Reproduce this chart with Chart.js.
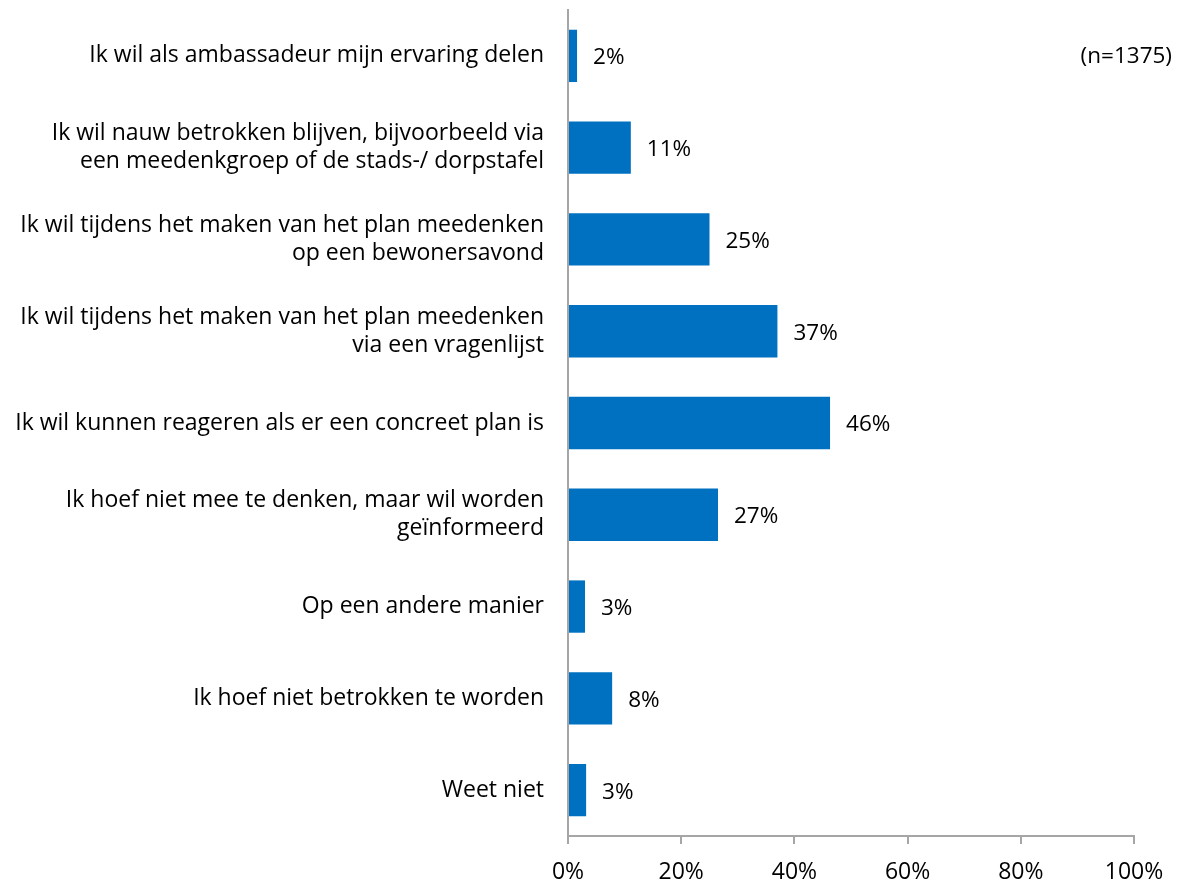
<!DOCTYPE html>
<html>
<head>
<meta charset="utf-8">
<script src="https://cdn.jsdelivr.net/npm/chart.js@4"></script>
<style>
  html, body { margin: 0; padding: 0; background: #fff; }
  #wrap { position: relative; width: 1182px; height: 883px; }
</style>
</head>
<body>
<div id="wrap"><canvas id="c" width="1182" height="883"></canvas></div>
<script>
// categorieën (meerregelig waar het origineel afbreekt)
const categories = [
  ['Ik wil als ambassadeur mijn ervaring delen'],
  ['Ik wil nauw betrokken blijven, bijvoorbeeld via', 'een meedenkgroep of de stads-/ dorpstafel'],
  ['Ik wil tijdens het maken van het plan meedenken', 'op een bewonersavond'],
  ['Ik wil tijdens het maken van het plan meedenken', 'via een vragenlijst'],
  ['Ik wil kunnen reageren als er een concreet plan is'],
  ['Ik hoef niet mee te denken, maar wil worden', 'geïnformeerd'],
  ['Op een andere manier'],
  ['Ik hoef niet betrokken te worden'],
  ['Weet niet']
];
const values = [1.6, 11.1, 25.0, 37.0, 46.3, 26.5, 3.0, 7.8, 3.2];
const xTicks = [0, 20, 40, 60, 80, 100];
const note = '(n=1375)';

const FONT = '"Open Sans", Lato, sans-serif';

// eenvoudige datalabels: percentage rechts van de balk
const barLabels = {
  id: 'barLabels',
  afterDatasetsDraw(chart) {
    const ctx = chart.ctx;
    const meta = chart.getDatasetMeta(0);
    ctx.save();
    ctx.font = '22.5px ' + FONT;
    ctx.fillStyle = '#000';
    ctx.textBaseline = 'middle';
    ctx.textAlign = 'left';
    meta.data.forEach((bar, i) => {
      ctx.fillText(Math.round(values[i]) + '%', bar.x + 16, bar.y + 2);
    });
    // steekproefgrootte rechtsboven
    ctx.textAlign = 'right';
    ctx.fillText(note, 1172, 57);
    ctx.restore();
  }
};

new Chart(document.getElementById('c').getContext('2d'), {
  type: 'bar',
  data: {
    labels: categories,
    datasets: [{
      data: values,
      backgroundColor: '#0070C0',
      borderWidth: 0,
      barPercentage: 0.57,
      categoryPercentage: 1
    }]
  },
  options: {
    indexAxis: 'y',
    responsive: false,
    animation: false,
    layout: { padding: { top: 10, right: 48, bottom: 0, left: 0 } },
    plugins: { legend: { display: false }, tooltip: { enabled: false } },
    scales: {
      x: {
        min: 0, max: 100,
        afterBuildTicks: s => { s.ticks = xTicks.map(v => ({ value: v })); },
        afterFit: s => { s.height = 47; },
        ticks: { color: '#000', font: { family: FONT, size: 23 }, padding: 15, callback: v => v + '%' },
        grid: { drawOnChartArea: false, drawTicks: true, tickLength: 8, color: '#a6a6a6', lineWidth: 2 },
        border: { color: '#a6a6a6', width: 2 }
      },
      y: {
        afterFit: s => { s.width = 568; s.paddingTop = 0; s.paddingBottom = 0; },
        ticks: { color: '#000', font: { family: FONT, size: 23, lineHeight: 1.22 }, padding: 24, crossAlign: 'near' },
        grid: { display: false, drawTicks: false },
        border: { color: '#a6a6a6', width: 2 }
      }
    }
  },
  plugins: [barLabels]
});
</script>
</body>
</html>
